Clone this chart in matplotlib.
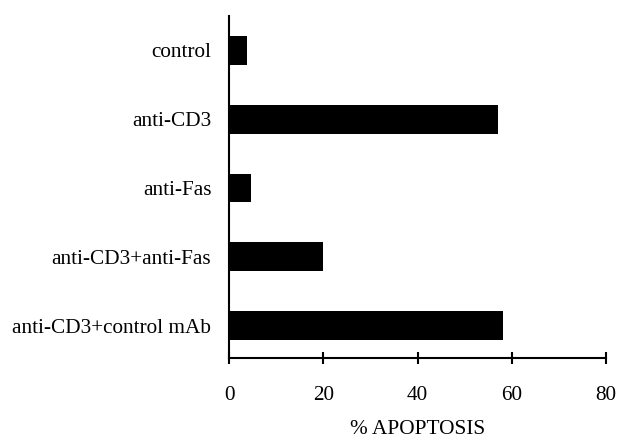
import matplotlib
matplotlib.use("Agg")
import matplotlib.pyplot as plt

# treatment groups, top to bottom
categories = ["control", "anti-CD3", "anti-Fas", "anti-CD3+anti-Fas", "anti-CD3+control mAb"]
apoptosis = [3.7, 57.0, 4.6, 19.9, 58.1]
xticks = [0, 20, 40, 60, 80]

plt.rcParams["font.family"] = ["Liberation Serif", "DejaVu Serif"]

fig = plt.figure(figsize=(6.2, 4.43), dpi=100)
ax = fig.add_axes([0.370, 0.192, 0.607, 0.772])

ypos = list(range(len(categories)))
ax.barh(ypos, apoptosis, height=0.42, color="black")

ax.set_ylim(4.47, -0.5)
ax.set_xlim(0, 80)
ax.set_yticks(ypos)
ax.set_yticklabels(categories, fontsize=15.3)
ax.set_xticks(xticks)
ax.set_xticklabels([str(t) for t in xticks], fontsize=15.3)
ax.set_xlabel("% APOPTOSIS", fontsize=15.3, labelpad=11)

for side in ["top", "right"]:
    ax.spines[side].set_visible(False)
for side in ["left", "bottom"]:
    ax.spines[side].set_linewidth(1.5)

ax.tick_params(axis="y", length=0, pad=13)
ax.tick_params(axis="x", direction="inout", length=8, width=1.5, pad=16)

fig.savefig("out.png", dpi=100)
